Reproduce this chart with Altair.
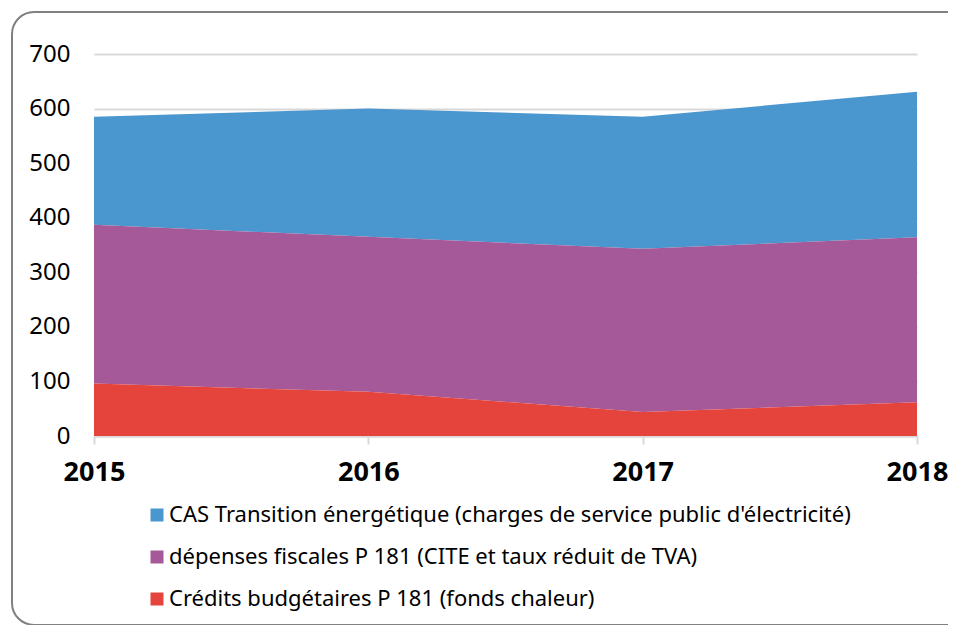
import altair as alt
import pandas as pd

years = [2015, 2016, 2017, 2018]
series = [
    "CAS Transition énergétique (charges de service public d'électricité)",
    "dépenses fiscales P 181 (CITE et taux réduit de TVA)",
    "Crédits budgétaires P 181 (fonds chaleur)",
]
cas_values = [198, 235, 242, 267]
depenses_values = [291, 284, 299, 302]
credits_values = [96, 81, 44, 62]
colors = ["#4A96CE", "#A55998", "#E5443C"]
stack_order = [3, 2, 1]

rows = []
for name, vals, order in zip(series, [cas_values, depenses_values, credits_values], stack_order):
    for y, v in zip(years, vals):
        rows.append({"year": y, "serie": name, "value": v, "order": order})
df = pd.DataFrame(rows)

FONT = "Noto Sans"

areas = alt.Chart(df).mark_area(opacity=1).encode(
    x=alt.X("year:Q",
            scale=alt.Scale(domain=[2015, 2018], nice=False, zero=False),
            axis=alt.Axis(values=years, format="d", title=None, grid=False,
                          domainColor="#d9d9d9", domainWidth=2,
                          tickColor="#d9d9d9", tickWidth=2, tickSize=8,
                          labelFont=FONT, labelFontSize=27, labelFontWeight="bold",
                          labelColor="#000000", labelPadding=15, labelFlush=False)),
    y=alt.Y("value:Q", stack="zero",
            scale=alt.Scale(domain=[0, 700], nice=False),
            axis=alt.Axis(values=[0, 100, 200, 300, 400, 500, 600, 700], title=None,
                          domain=False, ticks=False, gridColor="#d9d9d9", gridWidth=2,
                          labelFont=FONT, labelFontSize=24, labelColor="#000000",
                          labelPadding=24)),
    color=alt.Color("serie:N",
                    scale=alt.Scale(domain=series, range=colors),
                    legend=alt.Legend(title=None, orient="none", legendX=52, legendY=450,
                                      direction="vertical", symbolType="square",
                                      symbolSize=169, symbolStrokeWidth=0,
                                      labelFont=FONT, labelFontSize=22,
                                      labelColor="#000000", labelOffset=1,
                                      rowPadding=20, labelLimit=900)),
    order=alt.Order("order:Q", sort="ascending"),
)

frame = alt.Chart(alt.Data(values=[{}])).mark_rect(
    fill="transparent", stroke="#808080", strokeWidth=2, cornerRadius=22
).encode(
    x=alt.value(-82), x2=alt.value(881), y=alt.value(-42), y2=alt.value(571)
)

chart = alt.layer(areas, frame).properties(
    width=823, height=382,
    autosize=alt.AutoSizeParams(type="none"),
    padding={"left": 86, "top": 46, "right": 31, "bottom": 190},
).configure_view(stroke=None)

chart.save("out.html", embed_options={"renderer": "svg", "actions": False})
